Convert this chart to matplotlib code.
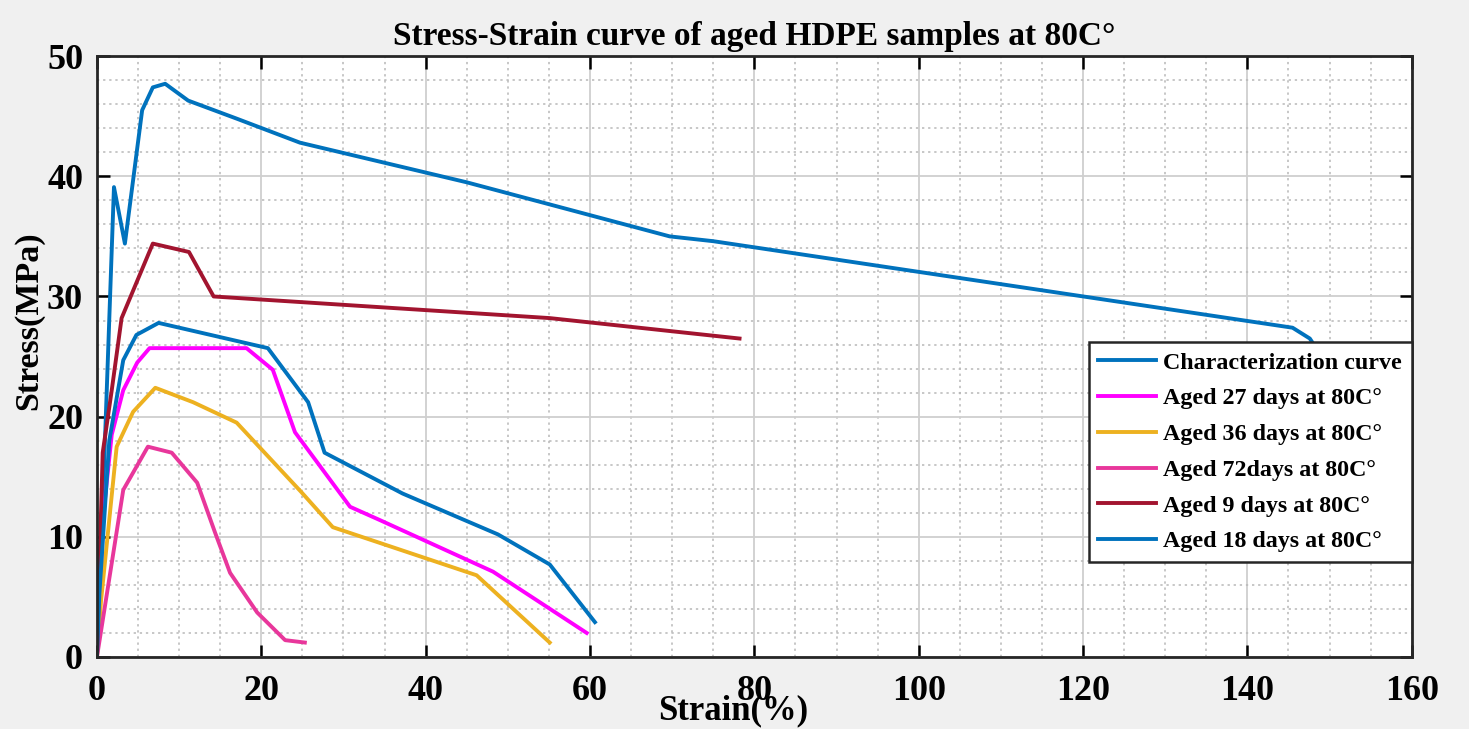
import matplotlib as mpl
mpl.use('Agg')
import matplotlib.pyplot as plt
from matplotlib.ticker import MultipleLocator

# strain (%) / stress (MPa)
char_x = [0.3, 2.07, 3.4, 5.5, 6.8, 8.3, 11.1, 17.0, 24.7, 45.0, 69.7, 75.0, 145.5, 147.6, 150.0]
char_y = [5.0, 39.1, 34.4, 45.5, 47.4, 47.7, 46.3, 44.8, 42.8, 39.5, 35.0, 34.6, 27.4, 26.5, 24.0]

d27_x = [0.0, 0.8, 1.8, 3.2, 4.9, 6.4, 18.2, 21.4, 24.1, 30.8, 34.4, 48.2, 59.6]
d27_y = [0.0, 12.0, 18.5, 22.2, 24.5, 25.7, 25.7, 23.9, 18.7, 12.5, 11.4, 7.1, 2.0]

d36_x = [0.0, 0.5, 2.4, 4.4, 7.1, 11.7, 17.0, 24.9, 28.7, 46.2, 55.1]
d36_y = [0.0, 4.7, 17.5, 20.4, 22.4, 21.2, 19.5, 13.7, 10.8, 6.8, 1.2]

d72_x = [0.0, 3.2, 6.2, 9.1, 12.2, 14.4, 16.2, 19.5, 22.9, 25.3]
d72_y = [0.0, 13.9, 17.5, 17.0, 14.5, 10.3, 7.0, 3.7, 1.4, 1.2]

d9_x = [0.0, 0.7, 1.8, 3.0, 6.8, 11.2, 14.2, 55.1, 78.2]
d9_y = [0.0, 17.0, 22.2, 28.2, 34.4, 33.7, 30.0, 28.2, 26.5]

d18_x = [0.0, 0.3, 1.5, 3.2, 4.8, 7.5, 20.8, 25.7, 27.7, 37.2, 48.8, 55.1, 60.6]
d18_y = [0.0, 5.3, 18.0, 24.7, 26.8, 27.8, 25.7, 21.2, 17.0, 13.6, 10.2, 7.7, 2.9]

labels = ['Characterization curve', 'Aged 27 days at 80C°', 'Aged 36 days at 80C°',
          'Aged 72days at 80C°', 'Aged 9 days at 80C°', 'Aged 18 days at 80C°']
colors = ['#0072BD', '#FF00FF', '#EDB120', '#E8379B', '#A2142F', '#0072BD']

plt.rcParams['font.family'] = ['Liberation Serif', 'DejaVu Serif']
plt.rcParams['font.weight'] = 'bold'

fig = plt.figure(figsize=(14.69, 7.29), dpi=100, facecolor='#f0f0f0')
ax = fig.add_axes([0.066, 0.0988, 0.895, 0.8242])
ax.set_facecolor('white')

series = [(char_x, char_y), (d27_x, d27_y), (d36_x, d36_y),
          (d72_x, d72_y), (d9_x, d9_y), (d18_x, d18_y)]
for (xs, ys), lab, col in zip(series, labels, colors):
    ax.plot(xs, ys, color=col, lw=2.8, label=lab)

ax.set_xlim(0, 160)
ax.set_ylim(0, 50)
ax.xaxis.set_major_locator(MultipleLocator(20))
ax.xaxis.set_minor_locator(MultipleLocator(5))
ax.yaxis.set_major_locator(MultipleLocator(10))
ax.yaxis.set_minor_locator(MultipleLocator(2))
ax.grid(which='major', color='#cfcfcf', lw=1.3, ls='-')
ax.grid(which='minor', color='#b8b8b8', lw=1.1, ls=(0, (1.5, 2.5)))
ax.set_axisbelow(True)

ax.tick_params(which='major', direction='in', length=9, width=1.8,
               top=True, right=True, labelsize=26, pad=10)
ax.tick_params(axis='x', which='major', pad=13)
ax.tick_params(which='minor', length=0, top=True, right=True)
for lbl in ax.get_xticklabels() + ax.get_yticklabels():
    lbl.set_fontweight('bold')
for sp in ax.spines.values():
    sp.set_linewidth(2.0)
    sp.set_color('#262626')

ax.set_title('Stress-Strain curve of aged HDPE samples at 80C°', fontsize=24,
             fontweight='bold', pad=8)
ax.set_xlabel('Strain(%)', fontsize=25, fontweight='bold', va='center')
ax.xaxis.set_label_coords(0.484, -0.09)
ax.set_ylabel('Stress(MPa)', fontsize=24.5, fontweight='bold', va='center')
ax.yaxis.set_label_coords(-0.052, 0.56)

leg = ax.legend(loc='lower right', bbox_to_anchor=(1.0, 0.158), fontsize=17.3,
                frameon=True, fancybox=False, framealpha=1, edgecolor='#262626',
                handlelength=2.4, handletextpad=0.3, labelspacing=0.58,
                borderpad=0.4, borderaxespad=0)
leg.get_frame().set_linewidth(1.8)
for t in leg.get_texts():
    t.set_fontweight('bold')

plt.savefig('out.png', dpi=100, facecolor=fig.get_facecolor())
